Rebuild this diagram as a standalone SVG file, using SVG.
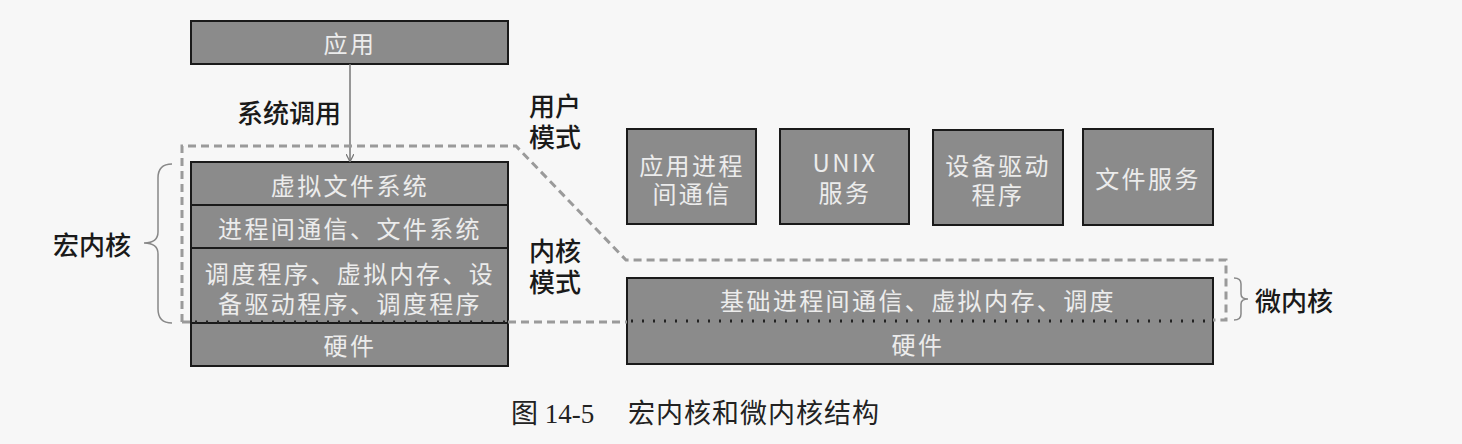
<svg xmlns="http://www.w3.org/2000/svg" width="1462" height="444" viewBox="0 0 1462 444">
<style>
.box{fill:#8b8b8b;stroke:#1a1a1a;stroke-width:2}
.bt{fill:#ececec;font-family:"Noto Sans CJK SC","Liberation Sans",sans-serif;font-size:24px;text-anchor:middle;dominant-baseline:central;letter-spacing:2.4px}
.lb{fill:#1a1a1a;font-family:"Noto Sans CJK SC","Liberation Sans",sans-serif;font-size:26px;font-weight:500;dominant-baseline:central}
.dash{fill:none;stroke:#9a9a9a;stroke-width:3;stroke-dasharray:8 5}
.dot{fill:none;stroke:#222;stroke-width:3;stroke-dasharray:2 9}
.brace{fill:none;stroke:#888;stroke-width:1.5}
</style>
<defs>
<marker id="ah" viewBox="0 0 10 10" refX="9" refY="5" markerWidth="8" markerHeight="8" orient="auto" markerUnits="userSpaceOnUse">
<path d="M0,0 L10,5 L0,10" fill="none" stroke="#777" stroke-width="1.5"/>
</marker>
</defs>
<rect width="1462" height="444" fill="#f7f7f7"/>

<g id="app">
<rect class="box" x="191" y="21" width="317" height="43"/>
<text class="bt" x="350" y="42">应用</text>
</g>

<g id="mono-vfs">
<rect class="box" x="191" y="162" width="317" height="43"/>
<text class="bt" x="350" y="184">虚拟文件系统</text>
</g>
<g id="mono-ipc">
<rect class="box" x="191" y="205" width="317" height="43"/>
<text class="bt" x="350" y="227">进程间通信、文件系统</text>
</g>
<g id="mono-sched">
<rect class="box" x="191" y="248" width="317" height="75"/>
<text class="bt" x="350" y="272">调度程序、虚拟内存、设<tspan x="350" dy="30">备驱动程序、调度程序</tspan></text>
</g>
<g id="mono-hw">
<rect class="box" x="191" y="323" width="317" height="43"/>
<text class="bt" x="350" y="344">硬件</text>
</g>

<g id="micro-ipc">
<rect class="box" x="627" y="129" width="129" height="95"/>
<text class="bt" x="692" y="164">应用进程<tspan x="692" dy="28">间通信</tspan></text>
</g>
<g id="micro-unix">
<rect class="box" x="780" y="129" width="129" height="95"/>
<text class="bt" x="845" y="161">UNIX<tspan x="845" dy="30">服务</tspan></text>
</g>
<g id="micro-drv">
<rect class="box" x="933" y="130" width="130" height="95"/>
<text class="bt" x="998" y="164">设备驱动<tspan x="998" dy="29">程序</tspan></text>
</g>
<g id="micro-fs">
<rect class="box" x="1083" y="129" width="130" height="96"/>
<text class="bt" x="1148" y="177">文件服务</text>
</g>
<g id="micro-kernel">
<rect class="box" x="627" y="278" width="586" height="86"/>
<text class="bt" x="918" y="299">基础进程间通信、虚拟内存、调度</text>
<text class="bt" x="918" y="343">硬件</text>
</g>

<g id="connectors">
<line x1="350" y1="64" x2="350" y2="161" stroke="#777" stroke-width="1.5" marker-end="url(#ah)"/>
<path class="dash" d="M182,322 L182,146 L516,146 L626,260 L1226,260 L1226,320 L1213,320"/>
<line class="dash" x1="182" y1="322" x2="191" y2="322"/>
<line class="dash" x1="508" y1="322" x2="627" y2="322"/>
<line class="dot" x1="195" y1="322" x2="508" y2="322"/>
<line class="dot" x1="631" y1="321" x2="1213" y2="321"/>
<path class="brace" d="M172,164 Q158,164 158,178 L158,232 Q158,243 144,243 Q158,243 158,254 L158,309 Q158,323 172,323"/>
<path class="brace" d="M1234,278 Q1241,278 1241,284 L1241,294 Q1241,299 1248,299 Q1241,299 1241,304 L1241,314 Q1241,320 1234,320"/>
</g>

<g id="labels">
<text class="lb" x="237" y="111">系统调用</text>
<text class="lb" x="529" y="104">用户<tspan x="529" dy="31">模式</tspan></text>
<text class="lb" x="529" y="249">内核<tspan x="529" dy="31">模式</tspan></text>
<text class="lb" x="53" y="243" font-size="27">宏内核</text>
<text class="lb" x="1255" y="299" font-size="27">微内核</text>
<text x="511" y="414" fill="#222" font-family="'Liberation Serif','Noto Sans CJK SC',serif" font-size="27" dominant-baseline="central">图 14-5<tspan x="628" letter-spacing="1">宏内核和微内核结构</tspan></text>
</g>
</svg>
